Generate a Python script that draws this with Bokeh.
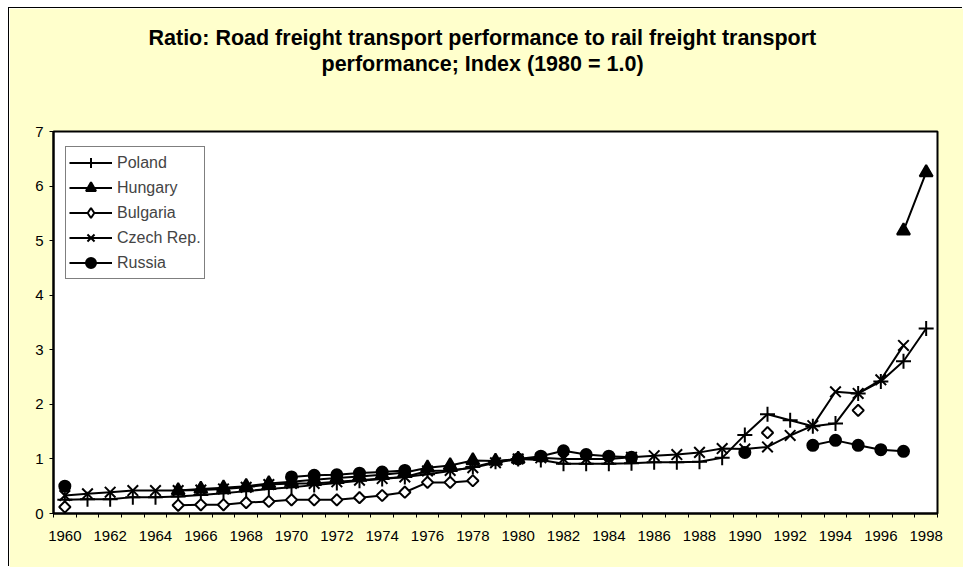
import math
from bokeh.plotting import figure
from bokeh.models import Range1d, FixedTicker, Legend, LegendItem, Title, ColumnDataSource
from bokeh.embed import file_html
from bokeh.resources import INLINE

nan = float("nan")

years = list(range(1960, 1999))

# 1960 .. 1998
poland = [0.25, 0.26, 0.26, 0.30, 0.30, 0.31, 0.34, 0.37, 0.41, 0.45,
          0.48, 0.52, 0.56, 0.60, 0.63, 0.67, 0.72, 0.78, 0.85, 0.95,
          1.00, 0.98, 0.91, 0.91, 0.91, 0.92, 0.94, 0.94, 0.95, 1.02,
          1.44, 1.82, 1.71, 1.60, 1.65, 2.20, 2.42, 2.79, 3.39]
hungary = [nan, nan, nan, nan, nan, 0.42, 0.45, 0.47, 0.50, 0.55,
           0.58, 0.62, 0.65, 0.68, 0.71, 0.75, 0.84, 0.88, 0.97, 0.96,
           1.00, nan, nan, nan, nan, nan, nan, nan, nan, nan,
           nan, nan, nan, nan, nan, nan, nan, 5.18, 6.25]
bulgaria = [0.12, nan, nan, nan, nan, 0.15, 0.16, 0.16, 0.20, 0.22,
            0.25, 0.25, 0.25, 0.29, 0.33, 0.39, 0.57, 0.57, 0.60, nan,
            1.00, nan, nan, nan, nan, nan, nan, nan, nan, nan,
            nan, 1.48, nan, nan, nan, 1.89, nan, nan, nan]
czech = [0.33, 0.36, 0.39, 0.42, 0.42, 0.42, 0.43, 0.45, 0.48, 0.53,
         0.55, 0.55, 0.58, 0.61, 0.64, 0.67, 0.78, 0.79, 0.84, 0.93,
         1.00, 1.02, 1.00, 1.00, 1.00, 1.03, 1.06, 1.08, 1.12, 1.19,
         1.18, 1.22, 1.43, 1.61, 2.23, 2.20, 2.45, 3.08, nan]
russia = [0.50, nan, nan, nan, nan, nan, nan, nan, nan, nan,
          0.67, 0.70, 0.71, 0.74, 0.76, 0.79, nan, nan, nan, nan,
          1.00, 1.05, 1.15, 1.08, 1.05, 1.03, nan, nan, nan, nan,
          1.12, nan, nan, 1.25, 1.34, 1.25, 1.17, 1.14, nan]

series_names = ["Poland", "Hungary", "Bulgaria", "Czech Rep.", "Russia"]
y_ticks = [0, 1, 2, 3, 4, 5, 6, 7]
x_label_years = list(range(1960, 1999, 2))

title_line1 = "Ratio: Road freight transport performance to rail freight transport"
title_line2 = "performance; Index (1980 = 1.0)"

FONT = "Liberation Sans"
BG = "#FFFFCC"

p = figure(width=954, height=559, output_backend="svg", toolbar_location=None,
           x_range=Range1d(1959.5, 1998.5), y_range=Range1d(0, 7),
           min_border_left=44, min_border_right=26, min_border_top=123,
           min_border_bottom=54, title=None)
p.border_fill_color = BG
p.background_fill_color = "white"
p.outline_line_color = "black"
p.outline_line_width = 2
p.xgrid.visible = False
p.ygrid.visible = False
p.styles = {"margin-left": "9px", "margin-top": "8px",
            "box-shadow": "-1px -1px 0 0 black"}

# axes
xa = p.xaxis[0]
xa.ticker = FixedTicker(ticks=x_label_years,
                        minor_ticks=[y - 0.5 for y in years] + [1998.5])
xa.major_label_overrides = {y: str(y) for y in x_label_years}
xa.major_tick_out = 0
xa.major_tick_in = 0
xa.minor_tick_out = 4
xa.minor_tick_in = 0
xa.minor_tick_line_color = "black"
xa.minor_tick_line_width = 1
xa.axis_line_width = 2
xa.axis_line_color = "black"
xa.major_label_standoff = 13
xa.major_label_text_font = FONT
xa.major_label_text_font_size = "15px"
xa.major_label_text_color = "black"

ya = p.yaxis[0]
ya.ticker = FixedTicker(ticks=y_ticks, minor_ticks=[])
ya.major_label_overrides = {t: str(t) for t in y_ticks}
ya.major_tick_out = 4
ya.major_tick_in = 0
ya.major_tick_line_width = 1
ya.axis_line_width = 2
ya.axis_line_color = "black"
ya.major_label_standoff = 6
ya.major_label_text_font = FONT
ya.major_label_text_font_size = "15px"
ya.major_label_text_color = "black"

styles = [
    dict(marker="cross", size=15, fill_color="black"),
    dict(marker="triangle", size=13, fill_color="black"),
    dict(marker="square", size=8, fill_color="white", angle=math.pi / 4),
    dict(marker="x", size=15, fill_color="black"),
    dict(marker="circle", size=11, fill_color="black"),
]

items = []
for name, vals, st in zip(series_names, [poland, hungary, bulgaria, czech, russia], styles):
    src = ColumnDataSource(dict(x=years, y=vals))
    ln = p.line("x", "y", source=src, line_color="black", line_width=2)
    sc = p.scatter("x", "y", source=src, line_color="black", line_width=2, **st)
    if name == "Bulgaria":
        # legend-only diamond glyph (placed outside the visible range)
        sc = p.scatter([3000], [50], marker="diamond", size=14, fill_color="white",
                       line_color="black", line_width=2)
    items.append(LegendItem(label=name, renderers=[ln, sc]))

legend = Legend(items=items, location=(12, 234))
legend.border_line_color = "black"
legend.border_line_width = 1
legend.background_fill_color = "white"
legend.background_fill_alpha = 1
legend.label_text_font = FONT
legend.label_text_font_size = "16px"
legend.padding = 3
legend.spacing = 0
legend.margin = 0
legend.glyph_width = 43
legend.glyph_height = 25
legend.label_height = 19
legend.label_standoff = 5
p.add_layout(legend, "center")

# spacer between the plot area and the two-line title
p.add_layout(Title(text=" ", standoff=30, text_font=FONT,
                   text_font_size="21.5px"), "above")
p.add_layout(Title(text=title_line2, align="left", offset=268, standoff=0,
                   text_font=FONT, text_font_style="bold", text_font_size="21.5px",
                   text_color="black"), "above")
p.add_layout(Title(text=title_line1, align="left", offset=95, standoff=0,
                   text_font=FONT, text_font_style="bold", text_font_size="21.5px",
                   text_color="black"), "above")

open("out.html", "w").write(file_html(p, INLINE))
